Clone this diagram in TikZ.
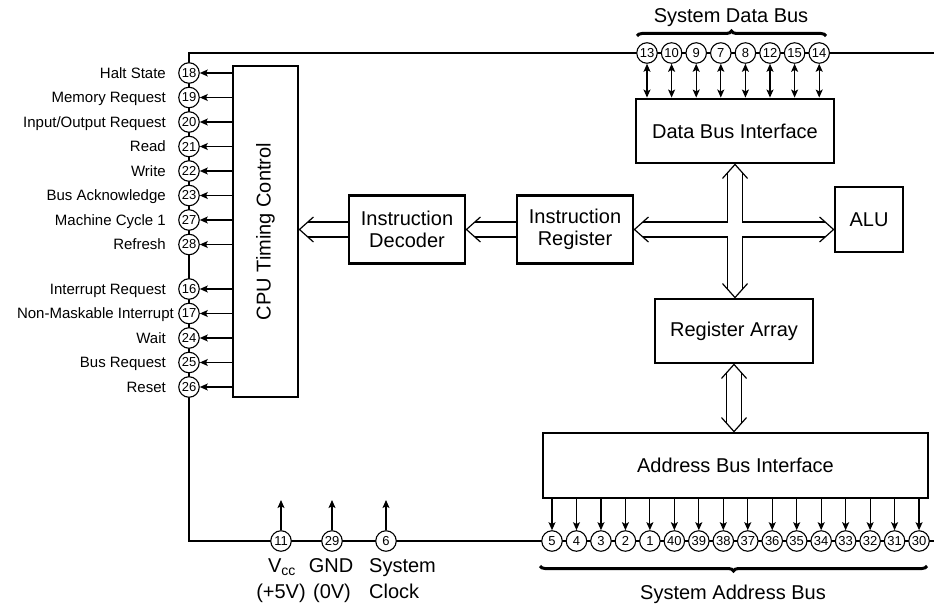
\documentclass[tikz,border=0pt]{standalone}
\usepackage{fontspec}
\setmainfont{Liberation Sans}
\usetikzlibrary{arrows.meta,calc,decorations.pathreplacing}
\tikzset{
  wire/.style={line width=1.2pt},
  pin/.style={circle, draw, fill=white, line width=1.1pt, minimum size=20.5pt, inner sep=0pt,
    font=\fontsize{13}{13}\selectfont},
  blk/.style={draw, line width=2.9pt, inner sep=0pt, align=center,
    font=\fontsize{20}{22}\selectfont},
  lbl/.style={font=\fontsize{15}{18}\selectfont, inner sep=0pt, text height=10.7pt, text depth=0pt},
  bigtxt/.style={font=\fontsize{20}{22}\selectfont, inner sep=0pt, text height=14.3pt, text depth=0pt},
  sig/.style={line width=1.2pt, -{Stealth[length=8pt,width=7pt,inset=1.8pt]}},
  bisig/.style={line width=1.2pt, {Stealth[length=8pt,width=7pt,inset=1.8pt]}-{Stealth[length=8pt,width=7pt,inset=1.8pt]}},
  dbl/.style={double, double distance=13.8pt, line width=1.2pt},
  chevstyle/.style={line width=1.2pt, line join=miter},
  brc/.style={decorate, decoration={brace, amplitude=5pt, aspect=0.5}, line width=3pt},
}
\newcommand\hollowtip[2]{\draw[chevstyle] ($(#1)+({#2+180-41.8}:18.8)$) -- (#1) -- ($(#1)+({#2+180+41.8}:18.8)$);}
\begin{document}
\begin{tikzpicture}[x=1pt,y=-1pt]
\useasboundingbox (0,0) rectangle (934,607);

% frame wire
\coordinate (tr) at (934,53);
\coordinate (tl) at (189,53);
\coordinate (bl) at (189,541);
\coordinate (br) at (934,541);
\draw[wire] (tr) -- (tl) -- (bl) -- (br);

% blocks
\node[blk, minimum width=65pt, minimum height=331pt] (cpu) at (265.5,231.5) {\rotatebox{90}{CPU Timing Control}};
\node[blk, minimum width=116pt, minimum height=68pt] (id) at (407,229.5) {Instruction\\Decoder};
\node[blk, minimum width=116pt, minimum height=68pt] (ir) at (575,229.5) {Instruction\\Register};
\node[blk, minimum width=198pt, minimum height=64pt] (dbi) at (735,131) {Data Bus Interface};
\node[blk, minimum width=68pt, minimum height=65pt] (alu) at (869,219.5) {ALU};
\node[blk, minimum width=158pt, minimum height=64pt] (ra) at (734,331) {Register Array};
\node[blk, minimum width=385pt, minimum height=65pt] (abi) at (735.5,465.5) {Address Bus Interface};

% left pins
\foreach \n/\yy/\t/\xe in {18/73/{Halt State}/166, 19/97.5/{Memory Request}/166,
  20/122/{Input/Output Request}/166, 21/146.5/{Read}/166, 22/171/{Write}/166,
  23/195.5/{Bus Acknowledge}/166, 27/220/{Machine Cycle 1}/166, 28/244.5/{Refresh}/166,
  16/289/{Interrupt Request}/166, 17/313.5/{Non-Maskable Interrupt}/174, 24/338/{Wait}/166,
  25/362.5/{Bus Request}/166, 26/387/{Reset}/166}{
  \node[pin] (p\n) at (189,\yy) {\n};
  \node[lbl, anchor=east] (l\n) at (\xe,\yy) {\t};
  \draw[sig] (cpu.west |- p\n) -- (p\n);
}

% data bus pins
\foreach \n [count=\i from 0] in {13,10,9,7,8,12,15,14}{
  \node[pin] (d\n) at ({647+24.6*\i},53) {\n};
  \draw[bisig] (dbi.north -| d\n) -- (d\n);
}

% address bus pins
\foreach \n [count=\i from 0] in {5,4,3,2,1,40,39,38,37,36,35,34,33,32,31,30}{
  \node[pin] (a\n) at ({552+24.47*\i},541) {\n};
  \draw[sig] (abi.south -| a\n) -- (a\n);
}

% power / clock pins
\node[pin] (p11) at (281,541) {11};
\node[pin] (p29) at (332,541) {29};
\node[pin] (p6) at (386,541) {6};
\coordinate (u11) at (281,500);
\coordinate (u29) at (332,500);
\coordinate (u6) at (386,500);
\draw[sig] (p11) -- (u11);
\draw[sig] (p29) -- (u29);
\draw[sig] (p6) -- (u6);
\node[bigtxt] (vcc) at (282,565) {V\textsubscript{cc}};
\node[bigtxt] (v5) at (281,591) {(+5V)};
\node[bigtxt] (gnd) at (331,565) {GND};
\node[bigtxt] (v0) at (332,591) {(0V)};
\node[bigtxt, anchor=west] (sys) at (369,565) {System};
\node[bigtxt, anchor=west] (clk) at (369,591) {Clock};

% wide arrows
\coordinate (t1) at (cpu.east |- id.west);
\draw[dbl] (id.west) -- ($(t1)+(8.5,0)$);
\hollowtip{t1}{180}
\coordinate (t2) at (id.east |- ir.west);
\draw[dbl] (ir.west) -- ($(t2)+(8.5,0)$);
\hollowtip{t2}{180}

\coordinate (xL) at (ir.east);
\coordinate (xR) at (alu.west |- ir.east);
\coordinate (xT) at (dbi.south);
\coordinate (xB) at (ra.north -| dbi.south);
\draw[dbl] ($(xL)+(8.5,0)$) -- ($(xR)+(-8.5,0)$) ($(xT)+(0,8.5)$) -- ($(xB)+(0,-8.5)$);
\hollowtip{xL}{180}
\hollowtip{xR}{0}
\hollowtip{xT}{270}
\hollowtip{xB}{90}

\coordinate (rT) at (ra.south);
\coordinate (rB) at (ra.south |- abi.north);
\draw[dbl] ($(rT)+(0,8.5)$) -- ($(rB)+(0,-8.5)$);
\hollowtip{rT}{270}
\hollowtip{rB}{90}

% braces and bus names
\coordinate (db1) at (637,36);
\coordinate (db2) at (826,36);
\draw[brc] (db1) -- (db2);
\node[bigtxt] (dbn) at (731,15) {System Data Bus};
\coordinate (ab1) at (927,566);
\coordinate (ab2) at (540,566);
\draw[brc] (ab1) -- (ab2);
\node[bigtxt] (abn) at (733,592) {System Address Bus};
\end{tikzpicture}
\end{document}
